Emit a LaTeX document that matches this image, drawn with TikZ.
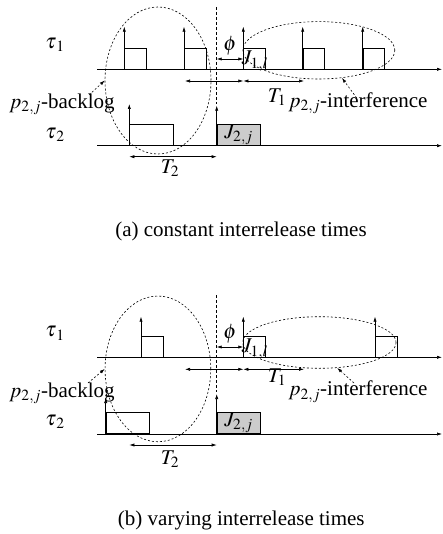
\documentclass[tikz,border=0pt]{standalone}
\usepackage{mathptmx}
\usepackage[no-math]{fontspec}
\setmainfont{Liberation Serif}
\usetikzlibrary{arrows.meta,shapes.geometric}
\definecolor{jobgray}{RGB}{204,204,204}
\begin{document}
\begin{tikzpicture}[x=1pt,y=-1pt,
  font=\fontsize{21}{25}\selectfont,
  tip/.tip={Latex[length=5pt,width=3.2pt]},
  axisline/.style={-tip, line width=0.6pt},
  relarrow/.style={-tip, line width=0.6pt},
  dblarrow/.style={tip-tip, line width=0.6pt},
  jobbox/.style={draw, line width=0.6pt, anchor=south west, inner sep=0, minimum width=21.5pt, minimum height=21pt},
  longbox/.style={jobbox, minimum width=43.5pt},
  region/.style={ellipse, draw, dash pattern=on 2pt off 2pt, line width=0.6pt, inner sep=0},
  pointer/.style={-tip, dash pattern=on 2pt off 2pt, line width=0.6pt},
  marker/.style={dash pattern=on 3pt off 2pt, line width=0.6pt},
  lbl/.style={inner sep=0}]
\useasboundingbox (0,0) rectangle (443,534);

% ================= panel (a) =================
\node[lbl] (at1) at (55,45) {$\tau_{\mkern2mu 1}$};
\node[lbl] (at2) at (55,135) {$\tau_{\mkern2mu 2}$};
\coordinate (aa1s) at (97,69.3);
\coordinate (aa1e) at (442,69.3);
\coordinate (aa2s) at (97,145.7);
\coordinate (aa2e) at (442,145.7);
\draw[axisline] (aa1s) -- (aa1e);
\draw[axisline] (aa2s) -- (aa2e);

\node[jobbox] (ab1) at (124.3,69.3) {};
\node[jobbox] (ab2) at (184,69.3) {};
\node[jobbox] (ab3) at (243.3,69.3) {};
\node[jobbox] (ab4) at (302.7,69.3) {};
\node[jobbox] (ab5) at (362.7,69.3) {};
\foreach \b in {ab1,ab2,ab3,ab4,ab5}
  \draw[relarrow] (\b.south west) -- ++(0,-42.6);

\node[longbox, minimum width=44pt] (ac1) at (129.3,145.7) {};
\node[jobbox, fill=jobgray, minimum width=43.3pt] (aj2) at (216.7,145.7) {};
\draw[relarrow] (ac1.south west) -- ++(0,-41.7);
\draw[relarrow] (aj2.south west) -- ++(0,-40);
\node[lbl] (aj2l) at (aj2.center) {$J_{2,j}$};

\coordinate (avt) at (216.7,7);
\coordinate (avb) at (216.7,104);
\draw[marker] (avt) -- (avb);

\coordinate (aphi) at (216.7,59);
\draw[dblarrow] (aphi) -- (aphi -| ab3.west);
\node[lbl] (aphil) at (230,46) {$\phi$};
\node[lbl] (aj1l) at (255,61) {$J_{1,l}$};

\coordinate (at1a) at (185,81);
\coordinate (at1b) at (243.3,81);
\coordinate (at1c) at (304,81);
\draw[dblarrow] (at1a) -- (at1b);
\draw[dblarrow] (at1b) -- (at1c);
\node[lbl] (at1l) at (277,97) {$T_1$};

\coordinate (at2a) at (129.3,156.7);
\coordinate (at2b) at (216.7,156.7);
\draw[dblarrow] (at2a) -- (at2b);
\node[lbl] (at2l) at (170,168) {$T_2$};

\node[region, minimum width=106pt, minimum height=147pt] (abl) at (158,80.5) {};
\node[region, minimum width=152pt, minimum height=57.4pt] (aif) at (318.8,50.3) {};
\node[lbl] (abll) at (62,104) {$p_{2,j}$-backlog};
\node[lbl] (aifl) at (358,103.5) {$p_{2,j}$-interference};
\coordinate (abp) at (89,95);
\coordinate (aip) at (356.7,98);
\draw[pointer] (abp) -- (abl.west);
\draw[pointer] (aip) -- (aif.-50);

\node[lbl] (acap) at (241,231.7) {(a) constant interrelease times};

% ================= panel (b) =================
\node[lbl] (bt1) at (55,333.3) {$\tau_{\mkern2mu 1}$};
\node[lbl] (bt2) at (55,421.7) {$\tau_{\mkern2mu 2}$};
\coordinate (ba1s) at (97,357.3);
\coordinate (ba1e) at (442,357.3);
\coordinate (ba2s) at (97,434);
\coordinate (ba2e) at (442,434);
\draw[axisline] (ba1s) -- (ba1e);
\draw[axisline] (ba2s) -- (ba2e);

\node[jobbox] (bb1) at (141,357.3) {};
\node[jobbox] (bb3) at (243.3,357.3) {};
\node[jobbox] (bb5) at (375,357.3) {};
\foreach \b in {bb1,bb3,bb5}
  \draw[relarrow] (\b.south west) -- ++(0,-40.6);

\node[longbox, minimum width=43.3pt] (bc1) at (105.7,434) {};
\node[jobbox, fill=jobgray, minimum width=43.3pt] (bj2) at (216.7,434) {};
\draw[relarrow] (bc1.south west) -- ++(0,-36);
\draw[relarrow] (bj2.south west) -- ++(0,-40);
\node[lbl] (bj2l) at (bj2.center) {$J_{2,j}$};

\coordinate (bvt) at (216.7,295);
\coordinate (bvb) at (216.7,392);
\draw[marker] (bvt) -- (bvb);

\coordinate (bphi) at (216.7,347);
\draw[dblarrow] (bphi) -- (bphi -| bb3.west);
\node[lbl] (bphil) at (230,334) {$\phi$};
\node[lbl] (bj1l) at (255,349) {$J_{1,l}$};

\coordinate (bt1a) at (185,369.3);
\coordinate (bt1b) at (243.3,369.3);
\coordinate (bt1c) at (304,369.3);
\draw[dblarrow] (bt1a) -- (bt1b);
\draw[dblarrow] (bt1b) -- (bt1c);
\node[lbl] (bt1l) at (277,377) {$T_1$};

\coordinate (bt2a) at (129.3,445);
\coordinate (bt2b) at (216.7,445);
\draw[dblarrow] (bt2a) -- (bt2b);
\node[lbl] (bt2l) at (170,459) {$T_2$};

\node[region, minimum width=105.7pt, minimum height=145.7pt] (bbl) at (157.9,368.9) {};
\node[region, minimum width=153.3pt, minimum height=51.6pt] (bif) at (319.4,342.5) {};
\node[lbl] (bbll) at (62,393) {$p_{2,j}$-backlog};
\node[lbl] (bifl) at (358,391.7) {$p_{2,j}$-interference};
\coordinate (bbp) at (88,383);
\coordinate (bip) at (354,383);
\draw[pointer] (bbp) -- (bbl.west);
\draw[pointer] (bip) -- (bif.-55);

\node[lbl] (bcap) at (241.3,520) {(b) varying interrelease times};
\end{tikzpicture}
\end{document}
